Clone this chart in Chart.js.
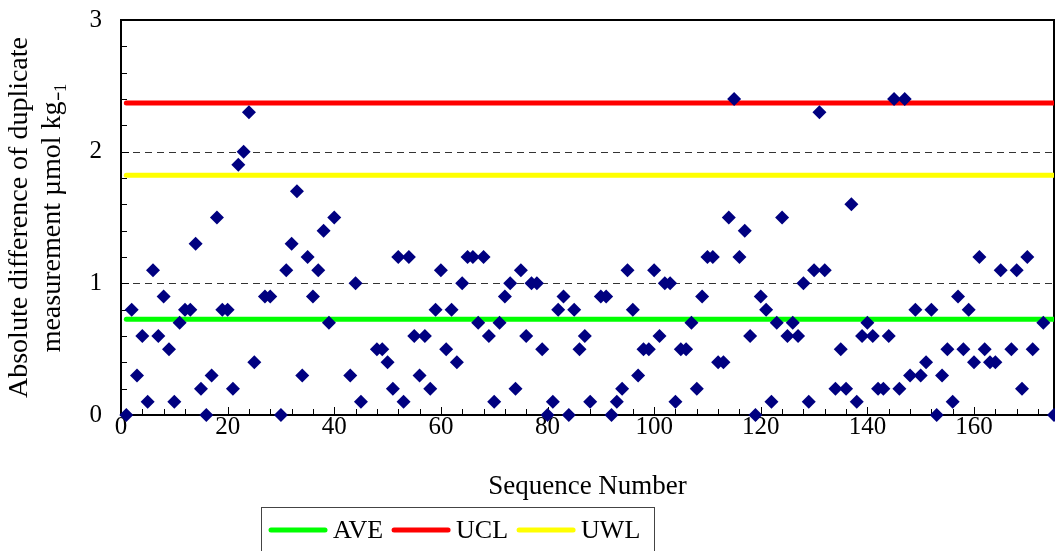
<!DOCTYPE html>
<html lang="en">
<head>
    <meta charset="UTF-8">
    <title>Duplicate measurement control chart</title>
    <script src="https://cdn.jsdelivr.net/npm/chart.js"></script>
    <style>
        body {
            margin: 0;
            padding: 0;
            background: #fff;
        }
        #wrap {
            width: 1055px;
            height: 551px;
        }
    </style>
</head>
<body>
    <div id="wrap">
        <canvas id="myChart" width="1055" height="551"></canvas>
    </div>

    <script>
        // sequence numbers and absolute differences
        const seqNo = [
            1, 2, 3, 4, 5, 6, 7, 8, 9, 10, 11, 12, 13, 14, 15, 16, 17, 18, 19, 20,
            21, 22, 23, 24, 25, 27, 28, 30, 31, 32, 33, 34, 35, 36, 37, 38, 39, 40,
            43, 44, 45, 48, 49, 50, 51, 52, 53, 54, 55, 56, 57, 58, 59, 60,
            61, 62, 63, 64, 65, 66, 67, 68, 69, 70, 71, 72, 73, 74, 75, 76, 77, 78, 79, 80,
            81, 82, 83, 84, 85, 86, 87, 88, 90, 91, 92, 93, 94, 95, 96, 97, 98, 99, 100,
            101, 102, 103, 104, 105, 106, 107, 108, 109, 110, 111, 112, 113, 114, 115, 116, 117, 118, 119, 120,
            121, 122, 123, 124, 125, 126, 127, 128, 129, 130, 131, 132, 134, 135, 136, 137, 138, 139, 140,
            141, 142, 143, 144, 145, 146, 147, 148, 149, 150, 151, 152, 153, 154, 155, 156, 157, 158, 159, 160,
            161, 162, 163, 164, 165, 167, 168, 169, 170, 171, 173, 175
        ];
        const absDiff = [
            0, 0.8, 0.3, 0.6, 0.1, 1.1, 0.6, 0.9, 0.5, 0.1, 0.7, 0.8, 0.8, 1.3, 0.2, 0, 0.3, 1.5, 0.8, 0.8,
            0.2, 1.9, 2.0, 2.3, 0.4, 0.9, 0.9, 0, 1.1, 1.3, 1.7, 0.3, 1.2, 0.9, 1.1, 1.4, 0.7, 1.5,
            0.3, 1.0, 0.1, 0.5, 0.5, 0.4, 0.2, 1.2, 0.1, 1.2, 0.6, 0.3, 0.6, 0.2, 0.8, 1.1,
            0.5, 0.8, 0.4, 1.0, 1.2, 1.2, 0.7, 1.2, 0.6, 0.1, 0.7, 0.9, 1.0, 0.2, 1.1, 0.6, 1.0, 1.0, 0.5, 0,
            0.1, 0.8, 0.9, 0, 0.8, 0.5, 0.6, 0.1, 0.9, 0.9, 0, 0.1, 0.2, 1.1, 0.8, 0.3, 0.5, 0.5, 1.1,
            0.6, 1.0, 1.0, 0.1, 0.5, 0.5, 0.7, 0.2, 0.9, 1.2, 1.2, 0.4, 0.4, 1.5, 2.4, 1.2, 1.4, 0.6, 0, 0.9,
            0.8, 0.1, 0.7, 1.5, 0.6, 0.7, 0.6, 1.0, 0.1, 1.1, 2.3, 1.1, 0.2, 0.5, 0.2, 1.6, 0.1, 0.6, 0.7,
            0.6, 0.2, 0.2, 0.6, 2.4, 0.2, 2.4, 0.3, 0.8, 0.3, 0.4, 0.8, 0, 0.3, 0.5, 0.1, 0.9, 0.5, 0.8, 0.4,
            1.2, 0.5, 0.4, 0.4, 1.1, 0.5, 1.1, 0.2, 1.2, 0.5, 0.7, 0
        ];

        // control lines
        const limitNames = ['AVE', 'UCL', 'UWL'];
        const limitValues = [0.727, 2.37, 1.82];
        const limitColors = ['#00ff00', '#ff0000', '#ffff00'];
        const limitSpan = [1, 175];

        // axis settings
        const xMax = 175;
        const yMax = 3;
        const yGridLines = [1, 2];

        const serif = '"Liberation Serif", "Times New Roman", serif';

        const points = seqNo.map((s, i) => ({ x: s, y: absDiff[i] }));

        const limitSets = limitNames.map((name, i) => ({
            type: 'line',
            label: name,
            data: limitSpan.map(s => ({ x: s, y: limitValues[i] })),
            borderColor: limitColors[i],
            backgroundColor: limitColors[i],
            borderWidth: 5,
            borderCapStyle: 'round',
            pointRadius: 0,
            fill: false,
            order: 1
        }));

        // frame, dashed grid, inside ticks and the boxed legend
        const decor = {
            id: 'decor',
            beforeDatasetsDraw(chart) {
                const { ctx, chartArea: a, scales } = chart;
                const xs = scales.x, ys = scales.y;
                ctx.save();

                ctx.strokeStyle = '#333';
                ctx.lineWidth = 1;
                ctx.setLineDash([7, 5]);
                yGridLines.forEach(v => {
                    const y = Math.round(ys.getPixelForValue(v)) + 0.5;
                    ctx.beginPath();
                    ctx.moveTo(a.left, y);
                    ctx.lineTo(a.right, y);
                    ctx.stroke();
                });
                ctx.setLineDash([]);

                ctx.strokeStyle = '#000';
                ctx.lineWidth = 1;
                for (let v = 0; v <= xMax; v += 4) {
                    const x = Math.round(xs.getPixelForValue(v)) + 0.5;
                    const len = v % 20 === 0 ? 8 : 6;
                    ctx.beginPath();
                    ctx.moveTo(x, a.bottom);
                    ctx.lineTo(x, a.bottom - len);
                    ctx.stroke();
                }
                for (let k = 0; k <= yMax * 5; k++) {
                    const y = Math.round(ys.getPixelForValue(k / 5)) + 0.5;
                    const len = k % 5 === 0 ? 8 : 6;
                    ctx.beginPath();
                    ctx.moveTo(a.left, y);
                    ctx.lineTo(a.left + len, y);
                    ctx.stroke();
                }

                ctx.lineWidth = 2;
                ctx.strokeRect(a.left, a.top, a.right - a.left, a.bottom - a.top);
                ctx.restore();
            },
            afterDraw(chart) {
                const { ctx } = chart;
                ctx.save();
                ctx.strokeStyle = '#444';
                ctx.lineWidth = 1;
                ctx.strokeRect(261.5, 507.5, 393, 60);

                ctx.font = '26px ' + serif;
                ctx.fillStyle = '#000';
                ctx.textBaseline = 'middle';
                ctx.lineCap = 'round';
                ctx.lineWidth = 5;
                let x = 271;
                const y = 530;
                limitNames.forEach((name, i) => {
                    ctx.strokeStyle = limitColors[i];
                    ctx.beginPath();
                    ctx.moveTo(x, y);
                    ctx.lineTo(x + 54, y);
                    ctx.stroke();
                    x += 62;
                    ctx.fillText(name, x, y + 1);
                    x += ctx.measureText(name).width + 11;
                });
                ctx.restore();
            }
        };

        const ctx = document.getElementById('myChart').getContext('2d');

        new Chart(ctx, {
            type: 'scatter',
            data: {
                datasets: [
                    {
                        label: 'Absolute difference',
                        data: points,
                        pointStyle: 'rectRot',
                        pointRadius: 7,
                        pointBackgroundColor: '#000080',
                        pointBorderColor: '#000080',
                        pointBorderWidth: 0,
                        clip: false,
                        order: 0
                    },
                    ...limitSets
                ]
            },
            options: {
                responsive: false,
                animation: false,
                layout: {
                    autoPadding: false,
                    padding: { top: 20, right: 1, bottom: 0, left: 0 }
                },
                plugins: {
                    legend: { display: false },
                    tooltip: { enabled: false }
                },
                scales: {
                    x: {
                        type: 'linear',
                        min: 0,
                        max: xMax,
                        grid: { display: false, drawTicks: false },
                        border: { display: false },
                        ticks: {
                            stepSize: 20,
                            padding: -3,
                            color: '#000',
                            maxRotation: 0,
                            autoSkip: false,
                            font: { family: serif, size: 25 },
                            callback: v => (v % 20 === 0 ? v : '')
                        },
                        title: {
                            display: true,
                            text: 'Sequence Number',
                            color: '#000',
                            font: { family: serif, size: 27 },
                            padding: { top: 0, bottom: 48 }
                        },
                        afterFit(scale) {
                            scale.height = 136;
                            scale.paddingLeft = 0;
                            scale.paddingRight = 0;
                        }
                    },
                    y: {
                        min: 0,
                        max: yMax,
                        grid: { display: false, drawTicks: false },
                        border: { display: false },
                        ticks: {
                            stepSize: 1,
                            padding: 19,
                            color: '#000',
                            font: { family: serif, size: 25 }
                        },
                        title: {
                            display: true,
                            text: ['Absolute difference of duplicate', 'measurement \u00b5mol kg\u208b\u2081'],
                            color: '#000',
                            font: { family: serif, size: 28, lineHeight: 1.15 },
                            padding: { top: 4, bottom: 0 }
                        },
                        afterFit(scale) {
                            scale.width = 121;
                            scale.paddingTop = 0;
                            scale.paddingBottom = 0;
                        }
                    }
                }
            },
            plugins: [decor]
        });
    </script>
</body>
</html>
